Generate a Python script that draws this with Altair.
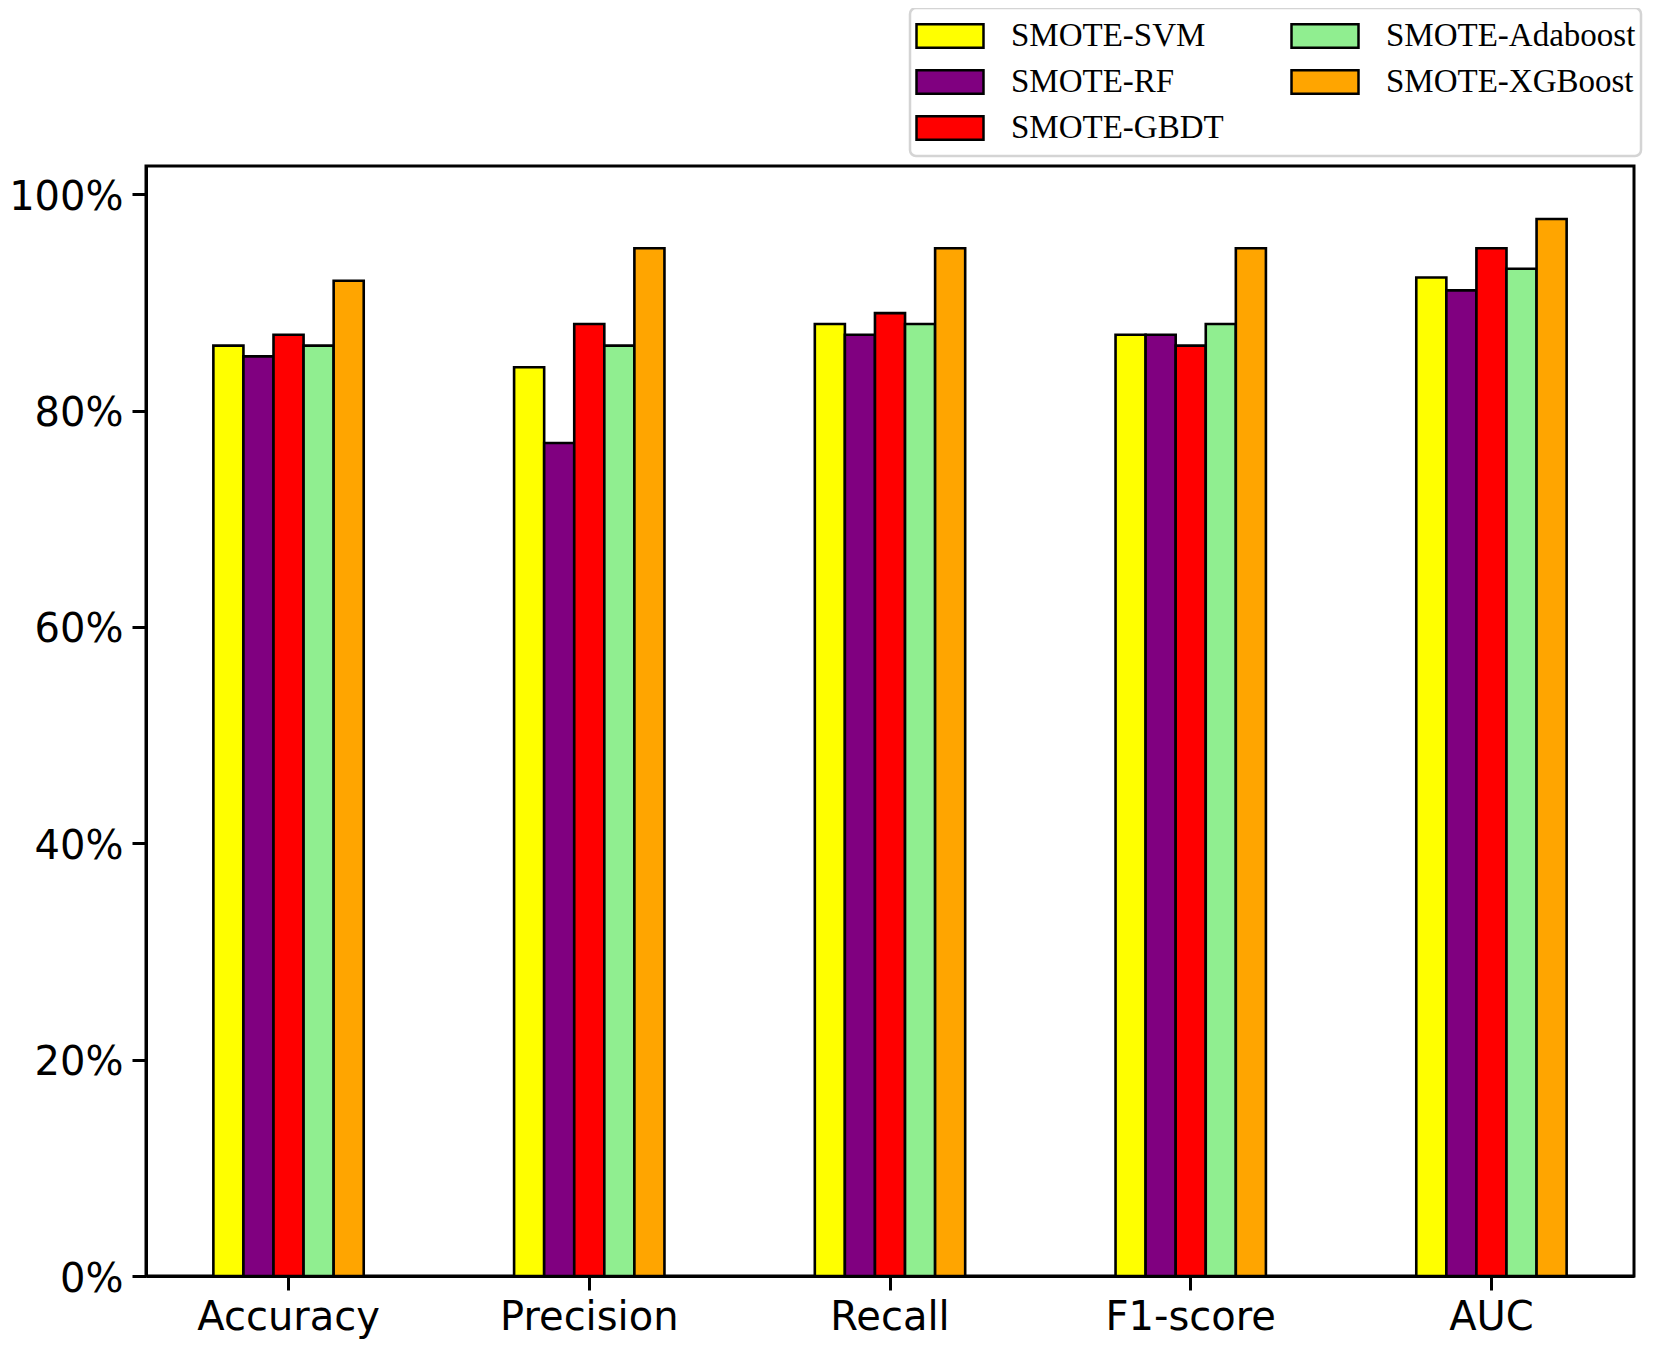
import altair as alt
import pandas as pd

categories = ["Accuracy", "Precision", "Recall", "F1-score", "AUC"]
models = ["SMOTE-SVM", "SMOTE-RF", "SMOTE-GBDT", "SMOTE-Adaboost", "SMOTE-XGBoost"]
svm = [86, 84, 88, 87, 92.3]
rf = [85, 77, 87, 87, 91.1]
gbdt = [87, 88, 89, 86, 95.0]
ada = [86, 86, 88, 88, 93.1]
xgb = [92, 95, 95, 95, 97.7]
colors = ["#ffff00", "#800080", "#ff0000", "#90ee90", "#ffa500"]
y_ticks = [0, 20, 40, 60, 80, 100]

series = [svm, rf, gbdt, ada, xgb]
rows = []
for m, vals in zip(models, series):
    for c, v in zip(categories, vals):
        rows.append({"metric": c, "model": m, "value": v})
df = pd.DataFrame(rows)

chart = (
    alt.Chart(df)
    .mark_bar(stroke="black", strokeWidth=2.6, opacity=1)
    .encode(
        x=alt.X(
            "metric:N",
            sort=categories,
            scale=alt.Scale(paddingInner=0.5, paddingOuter=0.224, align=0.5),
            axis=alt.Axis(title=None, labelAngle=0, labelPadding=7, labelLimit=0),
        ),
        xOffset=alt.XOffset(
            "model:N", sort=models, scale=alt.Scale(paddingInner=0, paddingOuter=0)
        ),
        y=alt.Y(
            "value:Q",
            scale=alt.Scale(domain=[0, 102.6], nice=False, zero=True),
            axis=alt.Axis(
                title=None,
                values=y_ticks,
                labelExpr="format(datum.value, 'd') + '%'",
                labelPadding=9,
                labelOffset=3,
                grid=False,
            ),
        ),
        color=alt.Color(
            "model:N",
            scale=alt.Scale(domain=models, range=colors),
            legend=alt.Legend(
                title=None,
                orient="none",
                legendX=764,
                legendY=-158,
                columns=2,
                columnPadding=66,
                rowPadding=0,
                clipHeight=46,
                padding=5,
                fillColor="white",
                strokeColor="#d4d4d4",
                cornerRadius=6,
                symbolType="M-1,-0.35H1V0.35H-1Z",
                symbolSize=4489,
                symbolStrokeColor="black",
                symbolStrokeWidth=2.5,
                symbolOpacity=1,
                labelFont="Liberation Serif",
                labelFontSize=33,
                labelColor="black",
                labelOffset=26,
                labelLimit=0,
            ),
        ),
    )
    .properties(
        width=1488,
        height=1110,
        padding={"left": 138, "top": 158, "right": 13, "bottom": 63},
        autosize=alt.AutoSizeParams(type="none"),
    )
    .configure_view(stroke="black", strokeWidth=3)
    .configure_legend(strokeWidth=2.5)
    .configure_axis(
        domainColor="black",
        domainWidth=3,
        tickColor="black",
        tickWidth=3,
        tickSize=14,
        labelFont="DejaVu Sans",
        labelFontSize=40,
        labelColor="black",
    )
)

chart.save("out.html", embed_options={"renderer": "svg", "actions": False})
